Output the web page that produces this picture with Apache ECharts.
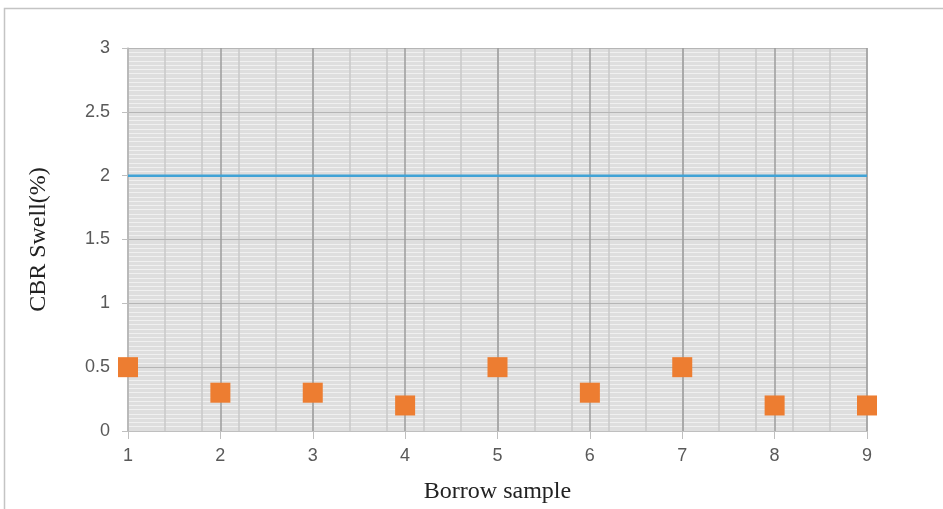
<!DOCTYPE html>
<html>
<head>
<meta charset="utf-8">
<script src="https://cdn.jsdelivr.net/npm/echarts@6/dist/echarts.min.js"></script>
<style>
html,body{margin:0;padding:0;background:#fff;}
#chart{width:943px;height:509px;}
</style>
</head>
<body>
<div id="chart"></div>
<script>
const samples = [1, 2, 3, 4, 5, 6, 7, 8, 9];
const swellValues = [0.5, 0.3, 0.3, 0.2, 0.5, 0.3, 0.5, 0.2, 0.2];
const limitValues = [2, 2, 2, 2, 2, 2, 2, 2, 2];
const xTitle = 'Borrow sample';
const yTitle = 'CBR Swell(%)';

const chart = echarts.init(document.getElementById('chart'), null, {renderer: 'canvas'});
const labelFont = {fontFamily: 'Liberation Sans', fontSize: 18, color: '#595959'};

chart.setOption({
  animation: false,
  backgroundColor: '#ffffff',
  graphic: [{
    type: 'rect',
    shape: {x: 4.5, y: 8.5, width: 960, height: 520},
    style: {fill: 'none', stroke: '#c4c4c4', lineWidth: 1.5},
    silent: true
  }],
  grid: {
    left: 128, right: 76, top: 48, bottom: 75,
    show: true, backgroundColor: '#dedede', borderWidth: 0
  },
  xAxis: [{
    type: 'value', min: 1, max: 9, interval: 1, z: 2,
    name: xTitle, nameLocation: 'middle', nameGap: 49,
    nameTextStyle: {fontFamily: 'Liberation Serif', fontSize: 24, color: '#222'},
    axisLine: {show: true, lineStyle: {color: '#bfbfbf', width: 1}},
    axisTick: {show: true, length: 8, lineStyle: {color: '#bfbfbf'}},
    axisLabel: Object.assign({margin: 16}, labelFont),
    splitLine: {show: true, lineStyle: {color: '#9d9d9d', width: 1.5}}
  }, {
    type: 'value', min: 0, max: 20, interval: 1, z: 1, position: 'bottom',
    axisLine: {show: false}, axisTick: {show: false}, axisLabel: {show: false},
    splitLine: {show: true, lineStyle: {color: '#c8c8c8', width: 1.5}}
  }],
  yAxis: [{
    type: 'value', min: 0, max: 3, interval: 0.5, z: 2,
    name: yTitle, nameLocation: 'middle', nameGap: 77, nameRotate: 90,
    nameTextStyle: {fontFamily: 'Liberation Serif', fontSize: 24, color: '#222'},
    axisLine: {show: true, lineStyle: {color: '#bfbfbf', width: 1.5}},
    axisTick: {show: true, length: 6, lineStyle: {color: '#bfbfbf'}},
    axisLabel: Object.assign({margin: 18}, labelFont),
    splitLine: {show: true, lineStyle: {color: '#b5b5b5', width: 1}}
  }, {
    type: 'value', min: 0, max: 90, interval: 1, z: 1, position: 'left',
    axisLine: {show: false}, axisTick: {show: false}, axisLabel: {show: false},
    splitLine: {show: true, lineStyle: {color: '#f0f0f0', width: 1}}
  }],
  series: [{
    type: 'line',
    xAxisIndex: 0, yAxisIndex: 0,
    data: samples.map((s, i) => [s, limitValues[i]]),
    symbol: 'none',
    lineStyle: {color: '#41a3d6', width: 2.5},
    z: 3
  }, {
    type: 'scatter',
    xAxisIndex: 0, yAxisIndex: 0,
    data: samples.map((s, i) => [s, swellValues[i]]),
    symbol: 'rect',
    symbolSize: 20,
    itemStyle: {color: '#ed7d31', opacity: 1},
    z: 4
  }]
});
</script>
</body>
</html>
